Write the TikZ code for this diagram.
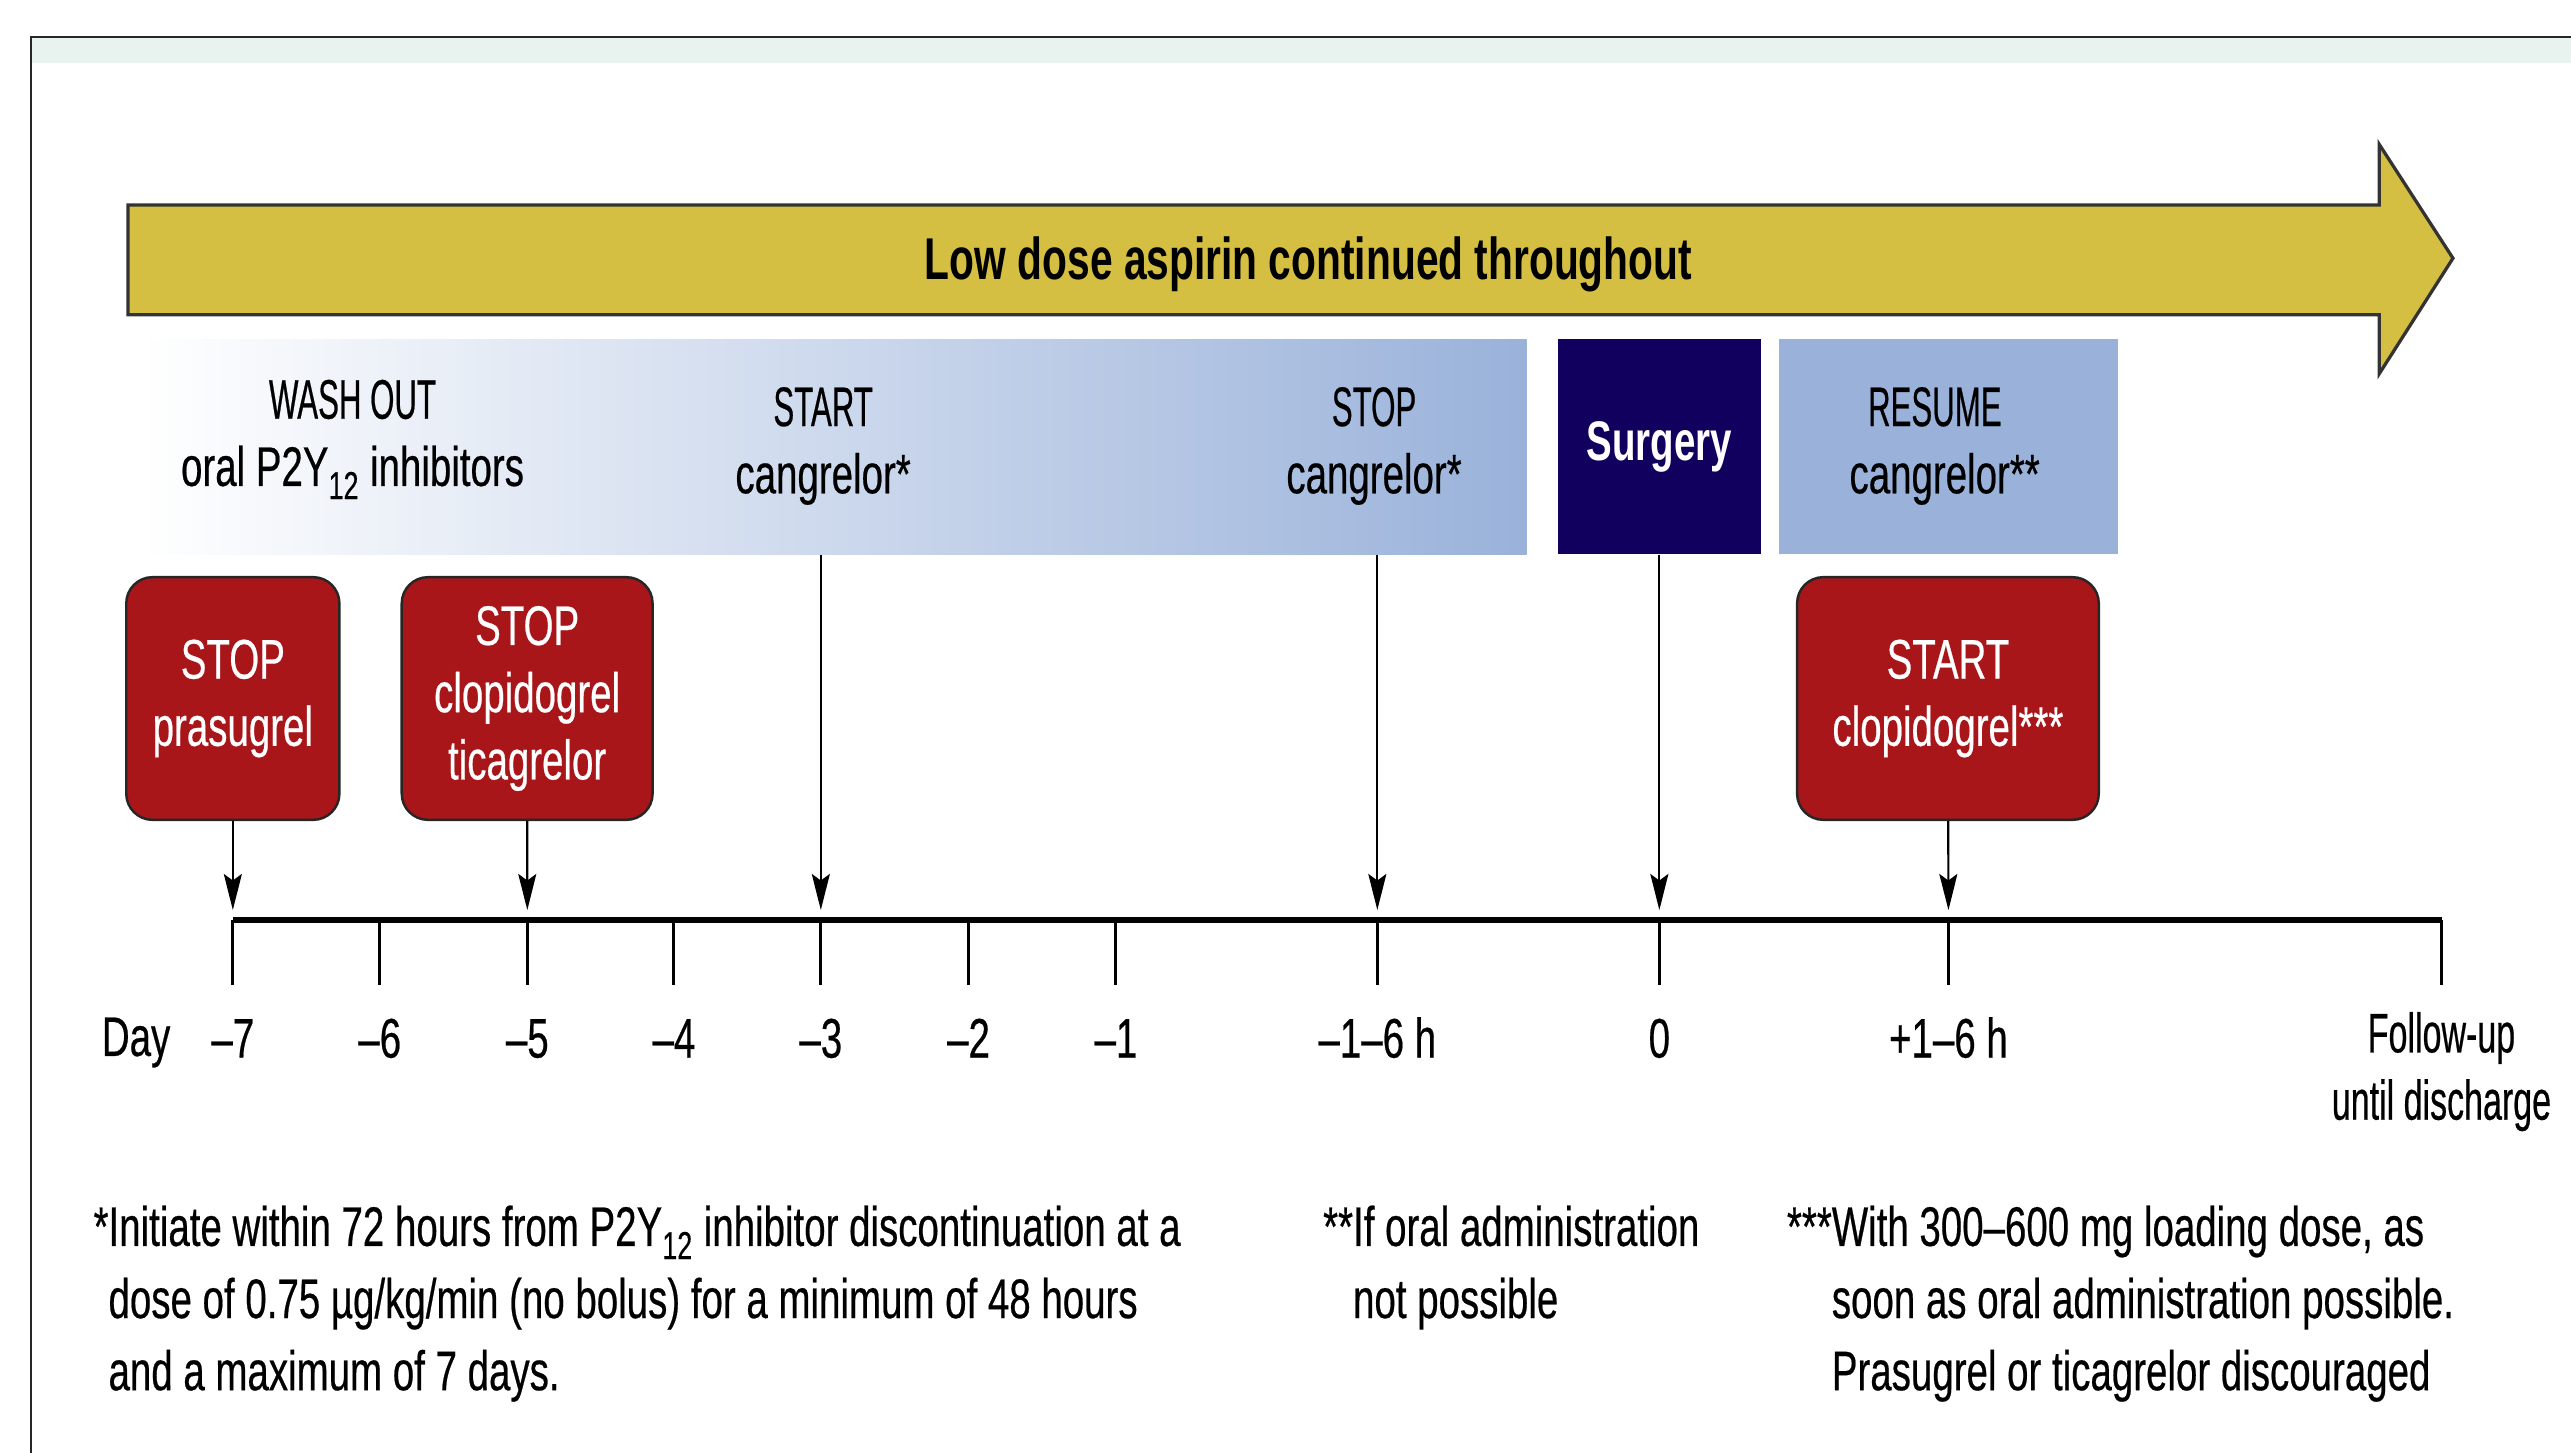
\documentclass[tikz,border=0pt]{standalone}
\usepackage{fontspec}
\setmainfont{Liberation Sans}[FakeStretch=0.69, UprightFeatures={FakeBold=0.4}]
\newfontfamily\capsf{Liberation Sans}[FakeStretch=0.56, FakeBold=0.4]
\newfontfamily\narrowf{Liberation Sans}[FakeStretch=0.61, FakeBold=0.4]
\usetikzlibrary{arrows.meta}
\definecolor{mint}{HTML}{E8F2EE}
\definecolor{aspyellow}{HTML}{D5BF43}
\definecolor{bandblue}{HTML}{9AB2DA}
\definecolor{navy}{HTML}{12005F}
\definecolor{drugred}{HTML}{A8161A}
\newcommand\myfs{\fontsize{34}{41}\selectfont}
\newcommand\myfoot{\fontsize{34}{44}\selectfont}
\tikzset{
  redbox/.style={draw=black!85, line width=1.5pt, fill=drugred, rounded corners=16pt,
    text=white, align=center, font=\myfs, minimum height=148pt},
  lbl/.style={align=center, font=\myfs},
  arr/.style={line width=1.3pt, -{Stealth[length=22pt,width=11pt,inset=4pt]}},
  tickline/.style={line width=1.8pt},
  foot/.style={anchor=north west, align=left, font=\myfoot}
}
\begin{document}
\begin{tikzpicture}[x=1pt,y=-1pt, every node/.style={inner sep=0pt}]
\useasboundingbox (0,0) rectangle (1568,886);
% frame
\fill[mint] (19,22.5) rectangle (1568,38.5);
\draw[line width=1.5pt, black!85] (19,886) -- (19,22.5) -- (1568,22.5);
% aspirin arrow
\draw[line width=2pt, draw=black!80, fill=aspyellow, line join=miter]
  (78,125) -- (1451,125) -- (1451,88) -- (1496,157.5) -- (1451,228) -- (1451,192) -- (78,192) -- cycle;
\node[font=\fontsize{36}{41}\selectfont\bfseries] (aspirin) at (798,161) {Low dose aspirin continued throughout};
% cangrelor band
\node[minimum width=846pt, minimum height=131pt, left color=white, right color=bandblue] (band) at (508,272.5) {};
\node[fill=navy, minimum width=124pt, minimum height=131pt, text=white, font=\myfs\bfseries] (surgery) at (1012,272.5) {Surgery};
\node[fill=bandblue, minimum width=207pt, minimum height=131pt] (resume) at (1188.5,272.5) {};
\node[lbl] (resumelbl) at (1186,272) {{\capsf RESUME}\kern12pt\\cangrelor**};
\node[lbl] (washlbl) at (215,268) {{\capsf WASH OUT}\\oral P2Y\textsubscript{12} inhibitors};
\node[lbl] (startlbl) at (502,272) {{\capsf START}\\cangrelor*};
\node[lbl] (stoplbl) at (838,272) {{\capsf STOP}\\cangrelor*};
% red boxes
\node[redbox, minimum width=130pt] (prasugrel) at (142,426) {STOP\\prasugrel};
\node[redbox, minimum width=153pt] (clopi) at (321.5,426) {STOP\\clopidogrel\\ticagrelor};
\node[redbox, minimum width=184pt] (startclo) at (1188,426) {START\\clopidogrel***};
% timeline
\draw[line width=3.6pt] (142,561) -- (1489,561);
\foreach \x/\nm/\lab in {142/d7/{–7},231.6/d6/{–6},321.6/d5/{–5},411/d4/{–4},500.6/d3/{–3},590.7/d2/{–2},680.6/d1/{–1},840/h1/{–1–6 h},1012/d0/{0},1188.3/p1/{+1–6 h}}{
  \coordinate (top-\nm) at (\x,555);
  \draw[tickline] (\x,561) -- (\x,601);
  \node[font=\myfs, anchor=base] (lab-\nm) at (\x,645) {\lab};
}
\draw[tickline] (1489,561) -- (1489,601);
\node[font=\myfs, anchor=base] (day) at (83,644) {Day};
\node[lbl, anchor=north, font=\myfs\narrowf] (fu) at (1489,617) {Follow-up\\until discharge};
% arrows
\draw[arr] (prasugrel) -- (top-d7);
\draw[arr] (clopi) -- (top-d5);
\draw[arr] (top-d3 |- band.south) -- (top-d3);
\draw[arr] (top-h1 |- band.south) -- (top-h1);
\draw[arr] (surgery) -- (top-d0);
\draw[arr] (startclo) -- (top-p1);
% footnotes
\node[foot] (fn1) at (66,735) {\llap{*}Initiate within 72 hours from P2Y\textsubscript{12} inhibitor discontinuation at a\\dose of 0.75 µg/kg/min (no bolus) for a minimum of 48 hours\\and a maximum of 7 days.};
\node[foot] (fn2) at (825,735) {\llap{**}If oral administration\\not possible};
\node[foot] (fn3) at (1117,735) {\llap{***}With 300–600 mg loading dose, as\\soon as oral administration possible.\\Prasugrel or ticagrelor discouraged};
\end{tikzpicture}
\end{document}
